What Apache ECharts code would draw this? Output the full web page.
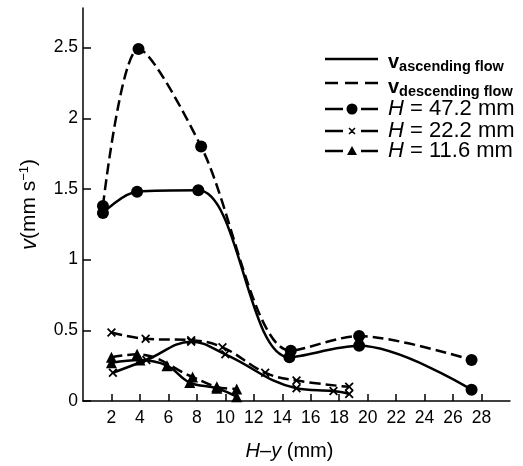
<!DOCTYPE html>
<html><head><meta charset="utf-8">
<script src="https://cdn.jsdelivr.net/npm/echarts@6/dist/echarts.min.js"></script>
<style>html,body{margin:0;padding:0;background:#fff}#c{width:523px;height:466px}</style>
</head><body><div id="c"></div>
<script>
// ---- data ----
const h47AscX = [1.4, 3.8, 8.1, 14.5, 19.4, 27.3];
const h47AscY = [1.33, 1.48, 1.49, 0.31, 0.39, 0.08];
const h47DescX = [1.4, 3.9, 8.3, 14.6, 19.4, 27.3];
const h47DescY = [1.38, 2.49, 1.80, 0.355, 0.46, 0.29];
const h22AscX = [2.1, 4.45, 7.6, 10.0, 15.0, 17.6, 18.7];
const h22AscY = [0.20, 0.29, 0.42, 0.33, 0.09, 0.07, 0.05];
const h22DescX = [2.0, 4.4, 7.6, 9.8, 12.8, 15.0, 18.7];
const h22DescY = [0.485, 0.44, 0.43, 0.38, 0.20, 0.145, 0.10];
const h11AscX = [2.0, 4.0, 5.9, 7.5, 9.4, 10.8];
const h11AscY = [0.27, 0.29, 0.25, 0.13, 0.09, 0.03];
const h11DescX = [2.0, 3.8, 7.7, 9.4, 10.8];
const h11DescY = [0.31, 0.33, 0.17, 0.10, 0.085];
const xTicks = [2, 4, 6, 8, 10, 12, 14, 16, 18, 20, 22, 24, 26, 28];
const yTicks = [0, 0.5, 1, 1.5, 2, 2.5];
const legendNames = ['ascending flow', 'descending flow', '47.2 mm', '22.2 mm', '11.6 mm'];

const pairs = (xs, ys) => xs.map((x, i) => [x, ys[i]]);
const crossPath = 'path://M0,1.4L1.4,0L5,3.6L8.6,0L10,1.4L6.4,5L10,8.6L8.6,10L5,6.4L1.4,10L0,8.6L3.6,5Z';
const FONT = 'Liberation Sans';
const DASH = [11, 5];

function mk(name, xs, ys, dashed, symbol, size, smooth) {
  return {
    name, type: 'line', data: pairs(xs, ys), smooth,
    symbol, symbolSize: size, showSymbol: true,
    lineStyle: { color: '#000', width: 2.5, type: dashed ? DASH : 'solid' },
    itemStyle: { color: '#000' }, z: 3
  };
}

const chart = echarts.init(document.getElementById('c'), null, { renderer: 'canvas' });

// legend drawn as graphic elements
const lx0 = 325, lx1 = 378, tx = 388;
const rows = [59, 83, 109, 131, 151];
const g = [];
g.push({ type: 'line', shape: { x1: lx0, y1: rows[0], x2: lx1, y2: rows[0] }, style: { stroke: '#000', lineWidth: 2.5 } });
g.push({ type: 'line', shape: { x1: lx0, y1: rows[1], x2: lx1, y2: rows[1] }, style: { stroke: '#000', lineWidth: 2.5, lineDash: [13, 7] } });
for (let i = 2; i < 5; i++) {
  g.push({ type: 'line', shape: { x1: lx0, y1: rows[i], x2: 343, y2: rows[i] }, style: { stroke: '#000', lineWidth: 2.5 } });
  g.push({ type: 'line', shape: { x1: 361, y1: rows[i], x2: lx1, y2: rows[i] }, style: { stroke: '#000', lineWidth: 2.5 } });
}
g.push({ type: 'circle', shape: { cx: 352, cy: rows[2], r: 5.5 }, style: { fill: '#000' } });
g.push({ type: 'polygon', shape: { points: [[349, rows[3]-3], [352, rows[3]], [355, rows[3]-3], [352, rows[3]], [355, rows[3]+3], [352, rows[3]], [349, rows[3]+3], [352, rows[3]]] }, style: { fill: 'none', stroke: '#000', lineWidth: 1.5 } });
g.push({ type: 'polygon', shape: { points: [[352, rows[4]-5], [357, rows[4]+4], [347, rows[4]+4]] }, style: { fill: '#000' } });
const richSub = {
  v: { fontFamily: FONT, fontWeight: 'bold', fontSize: 20, fill: '#000' },
  s: { fontFamily: FONT, fontWeight: 'bold', fontSize: 14.5, fill: '#000', padding: [10, 0, 0, 0] },
  h: { fontFamily: FONT, fontStyle: 'italic', fontSize: 22, fill: '#000' },
  n: { fontFamily: FONT, fontSize: 22, fill: '#000' }
};
g.push({ type: 'text', x: tx, y: rows[0] + 3, style: { text: '{v|v}{s|' + legendNames[0] + '}', rich: richSub, verticalAlign: 'middle' } });
g.push({ type: 'text', x: tx, y: rows[1] + 4, style: { text: '{v|v}{s|' + legendNames[1] + '}', rich: richSub, verticalAlign: 'middle' } });
for (let i = 2; i < 5; i++) {
  g.push({ type: 'text', x: tx, y: rows[i], style: { text: '{h|H}{n| = ' + legendNames[i] + '}', rich: richSub, verticalAlign: 'middle' } });
}

chart.setOption({
  animation: false,
  backgroundColor: '#fff',
  grid: { left: 83, right: 13, top: 8, bottom: 62 },
  xAxis: {
    type: 'value', min: 0, max: 30,
    name: '{i|H}{n|–}{i|y}{n| (mm)}', nameLocation: 'middle', nameGap: 40,
    nameTextStyle: { padding: [0, 14, 0, 0], rich: {
      i: { fontFamily: FONT, fontStyle: 'italic', fontSize: 20, color: '#000' },
      n: { fontFamily: FONT, fontSize: 20, color: '#000' } } },
    axisLine: { lineStyle: { color: '#000', width: 1.5 } },
    axisTick: { inside: true, length: 7, customValues: xTicks, lineStyle: { color: '#000', width: 1.5 } },
    axisLabel: { customValues: xTicks, margin: 8, fontFamily: FONT, fontSize: 17.5, color: '#000' },
    splitLine: { show: false }
  },
  yAxis: {
    type: 'value', min: 0, max: 2.78,
    name: '{i|v}{n|(mm s}{sup|−1}{n|)}', nameLocation: 'middle', nameGap: 42, nameRotate: 90,
    nameTextStyle: { rich: {
      i: { fontFamily: FONT, fontStyle: 'italic', fontSize: 22, color: '#000' },
      n: { fontFamily: FONT, fontSize: 21, color: '#000' },
      sup: { fontFamily: FONT, fontSize: 13, color: '#000', padding: [0, 0, 10, 0] } } },
    axisLine: { show: true, lineStyle: { color: '#000', width: 1.5 } },
    axisTick: { show: true, inside: true, length: 8, customValues: yTicks, lineStyle: { color: '#000', width: 1.5 } },
    axisLabel: { customValues: yTicks, margin: 5, fontFamily: FONT, fontSize: 17.5, color: '#000' },
    splitLine: { show: false }
  },
  series: [
    mk('h47a', h47AscX, h47AscY, false, 'circle', 12, 0.35),
    mk('h47d', h47DescX, h47DescY, true, 'circle', 12, 0.3),
    mk('h22a', h22AscX, h22AscY, false, crossPath, 9, 0.4),
    mk('h22d', h22DescX, h22DescY, true, crossPath, 9, 0.4),
    mk('h11a', h11AscX, h11AscY, false, 'triangle', 11, 0.4),
    mk('h11d', h11DescX, h11DescY, true, 'triangle', 11, 0.4)
  ],
  graphic: g
});
</script>
</body></html>
